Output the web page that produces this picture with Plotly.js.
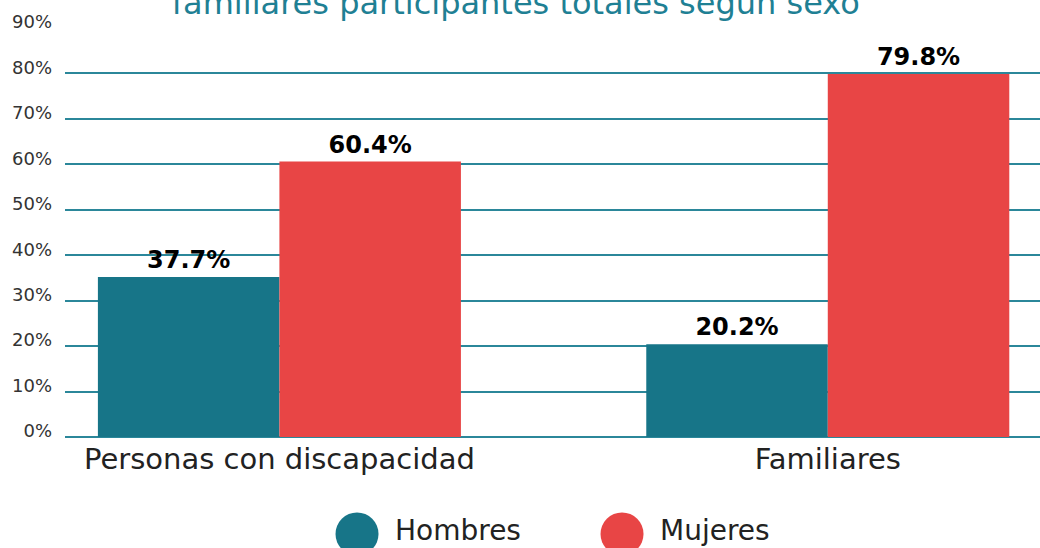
<!DOCTYPE html>
<html>
<head>
<meta charset="utf-8">
<script src="https://cdn.plot.ly/plotly-3.0.1.min.js"></script>
<style>
  html, body { margin: 0; padding: 0; background: #fff; }
  #chart { width: 1040px; height: 548px; }
</style>
</head>
<body>
<div id="chart"></div>
<script>
const TEAL = '#177588';
const RED = '#e84545';
const GRID = '#2b879a';
const FONT_FAMILY = '"DejaVu Sans", "Open Sans", sans-serif';

const categories = ['Personas con discapacidad', 'Familiares'];
const seriesNames = ['Hombres', 'Mujeres'];
const hombres = [35.2, 20.4];
const mujeres = [60.6, 79.9];
const hombresLabels = ['37.7%', '20.2%'];
const mujeresLabels = ['60.4%', '79.8%'];
const yTicks = [0, 10, 20, 30, 40, 50, 60, 70, 80, 90];

const labelFont = {family: '"DejaVu Sans", sans-serif', size: 24, color: '#000', weight: 900};

function barTrace(name, values, labels, color) {
  return {
    type: 'bar',
    name: name,
    x: categories,
    y: values,
    text: labels,
    textposition: 'outside',
    textfont: labelFont,
    cliponaxis: false,
    marker: {color: color, line: {width: 0}},
    hoverinfo: 'x+text',
    showlegend: false,
  };
}

const traces = [
  barTrace(seriesNames[0], hombres, hombresLabels, TEAL),
  barTrace(seriesNames[1], mujeres, mujeresLabels, RED),
];

// legend drawn by hand: plotly caps legend marker size well below these big dots
const legendColors = [TEAL, RED];
const legendDotX = [0.2995, 0.5713];
const legendDotY = -0.237;
const legendTextY = -0.2274;
const shapes = seriesNames.map((n, i) => ({
  type: 'circle',
  xref: 'paper', yref: 'paper',
  xsizemode: 'pixel', ysizemode: 'pixel',
  xanchor: legendDotX[i], yanchor: legendDotY,
  x0: -21.5, x1: 21.5, y0: -21.5, y1: 21.5,
  fillcolor: legendColors[i],
  line: {width: 0},
}));
const annotations = seriesNames.map((n, i) => ({
  text: n,
  xref: 'paper', yref: 'paper',
  x: legendDotX[i] + 0.037, y: legendTextY,
  xanchor: 'left', yanchor: 'middle',
  showarrow: false,
  font: {family: FONT_FAMILY, size: 28, color: '#222'},
}));

const layout = {
  width: 1040,
  height: 548,
  margin: {l: 65, r: 0, t: 28, b: 111},
  paper_bgcolor: '#fff',
  plot_bgcolor: '#fff',
  title: {
    text: 'familiares participantes totales según sexo',
    font: {family: FONT_FAMILY, size: 32, color: '#1f8094'},
    x: 0.496, xanchor: 'center',
    yref: 'container', y: 0.995, yanchor: 'middle',
  },
  barmode: 'group',
  bargap: 0.338,
  bargroupgap: 0,
  showlegend: false,
  xaxis: {
    range: [-0.391, 1.387],
    showgrid: false,
    zeroline: false,
    showline: false,
    ticks: '',
    tickfont: {family: FONT_FAMILY, size: 29, color: '#222'},
    ticklabelstandoff: 2,
  },
  yaxis: {
    range: [0, 90],
    tickvals: yTicks,
    ticktext: yTicks.map(v => v + '%'),
    showgrid: true,
    gridcolor: GRID,
    gridwidth: 1.5,
    zeroline: true,
    zerolinecolor: GRID,
    zerolinewidth: 1.5,
    showline: false,
    ticks: '',
    ticklabelstandoff: 12,
    ticklabelshift: -6,
    tickfont: {family: FONT_FAMILY, size: 18, color: '#333'},
  },
  shapes: shapes,
  annotations: annotations,
  font: {family: FONT_FAMILY},
};

Plotly.newPlot('chart', traces, layout, {displayModeBar: false, displaylogo: false});
</script>
</body>
</html>
